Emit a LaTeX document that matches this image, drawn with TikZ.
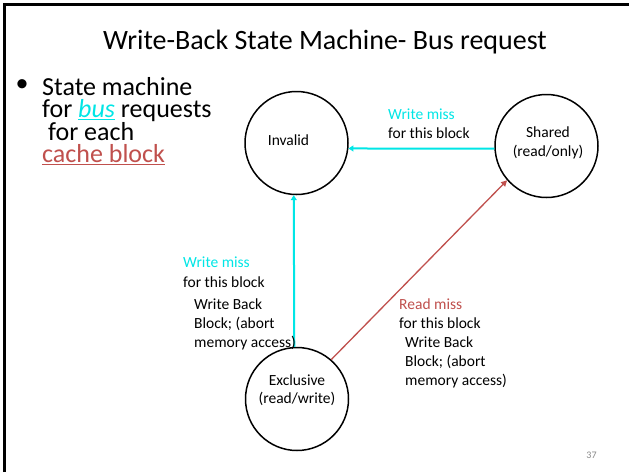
\documentclass[tikz,border=0pt]{standalone}
\usepackage{fontspec}
\setmainfont{Carlito}
\usetikzlibrary{arrows.meta}
\definecolor{cyanline}{RGB}{0,230,230}
\definecolor{redline}{RGB}{192,80,77}
\definecolor{pagenum}{RGB}{137,137,137}
\newcommand\tightlines{\lineskiplimit=-100pt\relax}

\begin{document}
\begin{tikzpicture}[x=1pt,y=1pt,
  state/.style={circle,draw=black,line width=1.5pt,minimum size=103pt,inner sep=0pt},
  txt/.style={anchor=base west,inner sep=0pt,font=\fontsize{15.5}{19}\selectfont},
  big/.style={anchor=base west,inner sep=0pt,align=left,
    font=\fontsize{26}{22.5}\selectfont\tightlines},
  cyanarrow/.style={cyanline,line width=2pt,-{Triangle[length=5pt,width=6pt]}},
  redarrow/.style={redline,line width=1.3pt,-{Triangle[length=6pt,width=6pt]}}
]
\useasboundingbox (0,0) rectangle (629,-472);
\fill[white] (0,0) rectangle (629,-472);

% slide frame (left and top edges)
\draw[line width=3pt] (4.5,-472) -- (4.5,-4.5) -- (629,-4.5);

% title
\node[anchor=base,inner sep=0pt,font=\fontsize{28}{30}\selectfont] (title) at (325,-49) {Write-Back State Machine- Bus request};

% bullet text (base anchor sits on the last line)
\node[anchor=center,inner sep=0pt,font=\fontsize{26}{26}\selectfont] (dot) at (22,-86) {•};
\node[big] (bullet) at (42,-162.5) {State machine\\
  for \textcolor{cyanline}{\underline{\textit{bus}}} requests\\
  \hspace*{6pt}for each\\
  \textcolor{redline}{\underline{cache block}}};

% states
\node[state] (inv) at (296.5,-143) {};
\node[state] (sh) at (546.5,-146) {};
\node[state] (ex) at (297,-399) {};

\node[txt,anchor=base] (invl) at (288.5,-145) {Invalid};
\node[txt,anchor=base] (shl1) at (548,-137) {Shared};
\node[txt,anchor=base] (shl2) at (548,-156) {(read/only)};
\node[txt,anchor=base] (exl1) at (297,-385) {Exclusive};
\node[txt,anchor=base] (exl2) at (297,-403) {(read/write)};

% transitions
\draw[cyanarrow] (sh.183.3) -- (inv.-6.7);
\draw[cyanarrow] (ex.93.3) -- (inv.267.2);
\draw[redarrow] (ex.49.5) -- (sh.221.5);

% transition labels
\node[txt,text=cyanline] (wm1) at (388,-119) {Write miss};
\node[txt] (fb1) at (388,-138) {for this block};

\node[txt,text=cyanline] (wm2) at (183,-267) {Write miss};
\node[txt] (fb2) at (183,-287) {for this block};
\node[txt] (wb2) at (194,-309) {Write Back};
\node[txt] (bl2) at (194,-328) {Block; (abort};
\node[txt] (ma2) at (194,-347) {memory access)};

\node[txt,text=redline] (rm) at (399,-309) {Read miss};
\node[txt] (fb3) at (399,-328) {for this block};
\node[txt] (wb3) at (405,-347) {Write Back};
\node[txt] (bl3) at (405,-366) {Block; (abort};
\node[txt] (ma3) at (405,-385) {memory access)};

% page number
\node[anchor=base,inner sep=0pt,font=\fontsize{10}{12}\selectfont,text=pagenum] (pg) at (591.5,-458) {37};
\end{tikzpicture}
\end{document}
